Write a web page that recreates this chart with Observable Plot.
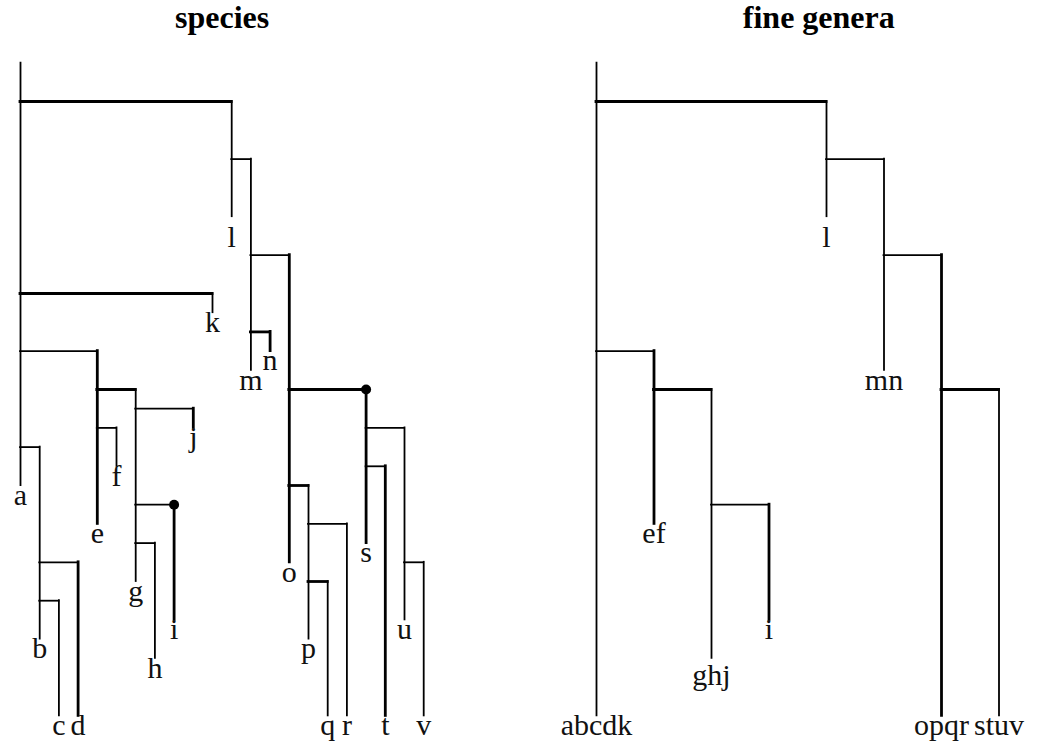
<!DOCTYPE html>
<html><head><meta charset="utf-8">
<script src="https://cdn.jsdelivr.net/npm/d3@7"></script>
<script src="https://cdn.jsdelivr.net/npm/@observablehq/plot@0.6"></script>
<style>
html,body{margin:0;padding:0;background:#fff;}
#wrap{display:flex;width:1042px;height:746px;overflow:hidden;}
#wrap svg{display:block;}
</style></head><body><div id="wrap"></div>
<script>
// ---- species tree (column = order in the list) ----
const speciesNames      = ["a","b","c","d","e","f","g","h","i","j","k","l","m","n","o","p","q","r","s","t","u","v"];
const speciesParents    = [null,"a","b","b","a","e","e","g","g","g","a","a","l","m","m","o","p","p","o","s","s","u"];
const speciesBranchRows = [-2,18,26,24,13,17,15,23,21,16,10,0,3,12,8,20,25,22,15,19,17,24];
const speciesEndRows    = [20,28,32,32,22,19,25,29,27,17,11,6,14,13,24,28,32,32,23,32,27,32];
const speciesLabelRows  = [21,29,33,33,23,20,26,30,28,18,12,7.6,15,14,25,29,33,33,24,33,28,33];
const speciesBoldBars   = ["l","k","n","g","s","p","q"];
const speciesBoldStems  = ["e","i","d","j","n","o","s","t"];
const speciesDots       = ["i","s"];

// ---- fine genera tree ----
const generaNames      = ["abcdk","ef","ghj","i","l","mn","opqr","stuv"];
const generaParents    = [null,"abcdk","ef","ghj","abcdk","l","mn","opqr"];
const generaBranchRows = [-2,13,15,21,0,3,8,15];
const generaEndRows    = [32,22,29,27,6,14,32,32];
const generaLabelRows  = [33,23,30.4,28,7.6,15,33,33];
const generaBoldBars   = ["l","ghj","stuv"];
const generaBoldStems  = ["ef","i","opqr"];
const generaDots       = [];

const titles = ["species", "fine genera"];

const THIN = 1.8, THICK = 2.8;
const H = 746, TOP = 62.6, BOTTOM_Y = 715.4;

function tree({names, parents, branch, end, labelRows, boldBars, boldStems, dots, title, marginLeft, marginRight, titleDx}) {
  const nodes = names.map((n, i) => ({name: n, col: i, parent: parents[i], branch: branch[i], end: end[i], labelRow: labelRows[i]}));
  const byName = new Map(nodes.map(d => [d.name, d]));
  nodes.forEach(d => { d.pcol = d.parent == null ? null : byName.get(d.parent).col; });
  const links = nodes.filter(d => d.parent != null);
  return Plot.plot({
    width: 521, height: H,
    marginLeft, marginRight,
    marginTop: TOP, marginBottom: H - BOTTOM_Y,
    x: {domain: [0, names.length - 1], axis: null},
    y: {domain: [-2, 32], reverse: true, axis: null},
    style: {fontFamily: "'Liberation Serif', 'DejaVu Serif', serif", background: "white", overflow: "visible"},
    marks: [
      Plot.ruleX(nodes, {x: "col", y1: "branch", y2: "end", stroke: "black",
        strokeWidth: d => boldStems.includes(d.name) ? THICK : THIN, strokeLinecap: "square"}),
      Plot.ruleY(links, {y: "branch", x1: "pcol", x2: "col", stroke: "black",
        strokeWidth: d => boldBars.includes(d.name) ? THICK : THIN, strokeLinecap: "square"}),
      Plot.dot(nodes.filter(d => dots.includes(d.name)), {x: "col", y: "branch", r: 5, fill: "black", stroke: null}),
      Plot.text(nodes, {x: "col", y: "labelRow", text: "name", lineAnchor: "bottom", fontSize: 30, fill: "#111"}),
      Plot.text([title], {frameAnchor: "top", text: d => d, lineAnchor: "bottom", dy: 27 - TOP, dx: titleDx,
        fontSize: 32, fontWeight: "bold", fill: "black"})
    ]
  });
}

const wrap = document.getElementById("wrap");
wrap.append(tree({names: speciesNames, parents: speciesParents, branch: speciesBranchRows, end: speciesEndRows,
  labelRows: speciesLabelRows, boldBars: speciesBoldBars, boldStems: speciesBoldStems, dots: speciesDots,
  title: titles[0], marginLeft: 20, marginRight: 97.8, titleDx: 0}));
wrap.append(tree({names: generaNames, parents: generaParents, branch: generaBranchRows, end: generaEndRows,
  labelRows: generaLabelRows, boldBars: generaBoldBars, boldStems: generaBoldStems, dots: generaDots,
  title: titles[1], marginLeft: 75, marginRight: 43.5, titleDx: 21}));
</script></body></html>
